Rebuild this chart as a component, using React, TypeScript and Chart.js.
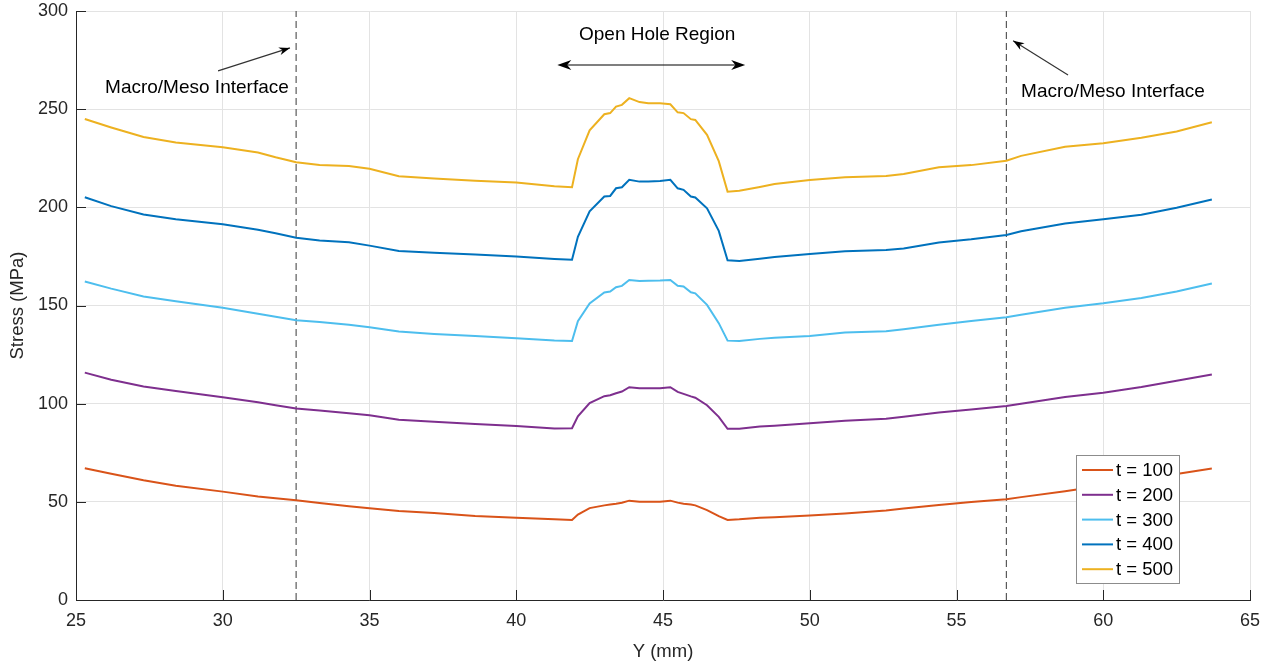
import { useEffect, useRef } from "react";
import { Chart, registerables } from "chart.js";

Chart.register(...registerables);

// ---- data ----
const yPositionMm = [
  25.3, 26.2, 27.3, 28.4, 30.0, 31.2, 31.8, 32.5, 33.3, 34.3, 35.0, 36.0, 37.2, 38.6, 40.0, 41.3,
  41.9, 42.1, 42.5, 43.0, 43.2, 43.4, 43.6, 43.85, 44.2, 44.5, 44.9, 45.25, 45.5, 45.7, 45.95, 46.1,
  46.5, 46.9, 47.2, 47.6, 48.3, 48.8, 50.0, 51.2, 52.6, 53.2, 54.4, 55.5, 56.7, 57.2, 58.7, 60.0,
  61.3, 62.5, 63.7,
];

const stressT100 = [
  67.1, 64.3, 61.0, 58.2, 55.2, 52.7, 51.8, 50.8, 49.4, 47.8, 46.7, 45.3, 44.3, 42.8, 41.9, 41.1,
  40.8, 43.5, 46.8, 48.2, 48.6, 49.0, 49.5, 50.6, 50.1, 50.1, 50.1, 50.6, 49.6, 49.0, 48.6, 48.2,
  45.8, 42.7, 40.8, 41.1, 41.9, 42.2, 43.0, 44.0, 45.6, 46.6, 48.4, 49.9, 51.3, 52.4, 55.4, 58.3,
  60.8, 64.2, 67.0,
];

const stressT200 = [
  115.8, 112.2, 108.7, 106.5, 103.3, 100.7, 99.2, 97.5, 96.5, 95.1, 94.1, 91.8, 90.8, 89.7, 88.6, 87.4,
  87.5, 93.5, 100.3, 103.8, 104.3, 105.3, 106.2, 108.4, 107.9, 107.9, 107.9, 108.4, 106.0, 105.0, 103.7, 103.0,
  99.2, 93.3, 87.2, 87.2, 88.4, 88.8, 90.0, 91.3, 92.3, 93.3, 95.5, 97.0, 98.8, 100.0, 103.4, 105.6,
  108.5, 111.7, 114.9,
];

const stressT300 = [
  162.2, 158.6, 154.6, 152.2, 148.9, 145.8, 144.3, 142.5, 141.6, 140.2, 138.9, 136.7, 135.5, 134.5, 133.3, 132.2,
  131.9, 142.0, 151.0, 156.6, 157.1, 159.3, 160.0, 163.0, 162.5, 162.6, 162.7, 163.0, 160.0, 159.7, 156.7, 156.2,
  150.3, 141.0, 132.1, 131.9, 133.0, 133.6, 134.5, 136.3, 136.9, 137.9, 140.2, 142.1, 144.0, 145.3, 148.9, 151.1,
  153.8, 157.1, 161.2,
];

const stressT400 = [
  205.1, 200.6, 196.4, 193.9, 191.4, 188.6, 186.8, 184.5, 183.1, 182.2, 180.5, 177.8, 176.9, 176.0, 174.9, 173.7,
  173.3, 185.0, 198.0, 205.5, 205.8, 209.7, 210.2, 214.0, 213.1, 213.2, 213.4, 214.0, 209.7, 208.9, 205.5, 205.0,
  199.5, 188.0, 173.0, 172.7, 173.8, 174.7, 176.2, 177.6, 178.3, 179.0, 182.1, 183.7, 185.9, 187.8, 191.8, 193.9,
  196.2, 199.8, 204.0,
];

const stressT500 = [
  245.0, 240.7, 235.8, 233.0, 230.6, 227.9, 225.5, 223.0, 221.6, 221.1, 219.6, 215.8, 214.7, 213.6, 212.6, 210.8,
  210.2, 224.5, 239.2, 247.4, 248.0, 251.3, 252.2, 255.6, 253.6, 253.0, 253.0, 252.5, 248.4, 248.0, 244.9, 244.5,
  236.9, 223.5, 208.0, 208.5, 210.4, 211.9, 213.9, 215.3, 216.0, 217.0, 220.4, 221.5, 223.7, 226.2, 230.8, 232.6,
  235.4, 238.6, 243.3,
];

const seriesLabels = ["t = 100", "t = 200", "t = 300", "t = 400", "t = 500"];
const seriesValues = [stressT100, stressT200, stressT300, stressT400, stressT500];
const seriesColors = ["#D95319", "#7E2F8E", "#4DBEEE", "#0072BD", "#EDB120"];

const interfacePositions = [32.5, 56.7];
const xMin = 25, xMax = 65, xStep = 5;
const yMin = 0, yMax = 300, yStep = 50;

// annotations (data coordinates)
const openHoleText = { text: "Open Hole Region", x: 44.8, y: 287.8 };
const openHoleArrow = { x1: 41.4, x2: 47.8, y: 272.5 };
const leftInterfaceText = { text: "Macro/Meso Interface", x: 25.99, y: 260.8 };
const leftInterfaceArrow = { x1: 29.84, y1: 269.5, x2: 32.29, y2: 281.2 };
const rightInterfaceText = { text: "Macro/Meso Interface", x: 57.2, y: 258.8 };
const rightInterfaceArrow = { x1: 58.8, y1: 267.4, x2: 56.93, y2: 284.8 };

const FONT = "'Liberation Sans', Arial, Helvetica, sans-serif";
const TEXT_COLOR = "#262626";

function arrowHead(ctx: CanvasRenderingContext2D, fx: number, fy: number, tx: number, ty: number, len = 12, half = 4.5) {
  const ang = Math.atan2(ty - fy, tx - fx);
  const cos = Math.cos(ang), sin = Math.sin(ang);
  const bx = tx - len * cos, by = ty - len * sin;
  const nx = tx - len * 0.7 * cos, ny = ty - len * 0.7 * sin;
  ctx.beginPath();
  ctx.moveTo(tx, ty);
  ctx.lineTo(bx - half * sin, by + half * cos);
  ctx.lineTo(nx, ny);
  ctx.lineTo(bx + half * sin, by - half * cos);
  ctx.closePath();
  ctx.fill();
}

const decorPlugin = {
  id: "decor",
  afterDraw(chart: any) {
    const { ctx, chartArea } = chart;
    const xs = chart.scales.x, ys = chart.scales.y;
    const { left, bottom } = chartArea;
    ctx.save();
    // inward tick marks
    ctx.strokeStyle = TEXT_COLOR;
    ctx.lineWidth = 1;
    ctx.beginPath();
    xs.ticks.forEach((t: any) => {
      const px = Math.round(xs.getPixelForValue(t.value)) + 0.5;
      ctx.moveTo(px, bottom);
      ctx.lineTo(px, bottom - 10);
    });
    ys.ticks.forEach((t: any) => {
      const py = Math.round(ys.getPixelForValue(t.value)) + 0.5;
      ctx.moveTo(left, py);
      ctx.lineTo(left + 10, py);
    });
    ctx.stroke();

    // annotations
    ctx.fillStyle = "#000";
    ctx.font = `19px ${FONT}`;
    ctx.textBaseline = "middle";
    ctx.textAlign = "center";
    ctx.fillText(openHoleText.text, xs.getPixelForValue(openHoleText.x), ys.getPixelForValue(openHoleText.y));
    ctx.textAlign = "left";
    ctx.fillText(leftInterfaceText.text, xs.getPixelForValue(leftInterfaceText.x), ys.getPixelForValue(leftInterfaceText.y));
    ctx.fillText(rightInterfaceText.text, xs.getPixelForValue(rightInterfaceText.x), ys.getPixelForValue(rightInterfaceText.y));

    ctx.strokeStyle = "#000";
    ctx.lineWidth = 1.2;
    // double arrow
    const ax1 = xs.getPixelForValue(openHoleArrow.x1), ax2 = xs.getPixelForValue(openHoleArrow.x2);
    const ay = ys.getPixelForValue(openHoleArrow.y);
    ctx.beginPath();
    ctx.moveTo(ax1 + 6, ay);
    ctx.lineTo(ax2 - 6, ay);
    ctx.stroke();
    arrowHead(ctx, ax2, ay, ax1, ay, 14, 5);
    arrowHead(ctx, ax1, ay, ax2, ay, 14, 5);

    const single = (a: any) => {
      const x1 = xs.getPixelForValue(a.x1), y1 = ys.getPixelForValue(a.y1);
      const x2 = xs.getPixelForValue(a.x2), y2 = ys.getPixelForValue(a.y2);
      ctx.strokeStyle = "#333";
      ctx.fillStyle = "#000";
      ctx.beginPath();
      ctx.moveTo(x1, y1);
      ctx.lineTo(x2, y2);
      ctx.stroke();
      arrowHead(ctx, x1, y1, x2, y2, 11, 4);
    };
    single(leftInterfaceArrow);
    single(rightInterfaceArrow);

    // legend
    const lx = 1076, ly = 455, lw = 103, lh = 128;
    ctx.fillStyle = "#fff";
    ctx.fillRect(lx, ly, lw, lh);
    ctx.strokeStyle = "#8c8c8c";
    ctx.lineWidth = 1;
    ctx.strokeRect(lx + 0.5, ly + 0.5, lw, lh);
    const rowH = 24.8;
    chart.data.datasets.forEach((ds: any, i: number) => {
      if (ds.hideInLegend) return;
      const cy = ly + 15 + i * rowH;
      ctx.strokeStyle = ds.borderColor;
      ctx.lineWidth = 2;
      ctx.beginPath();
      ctx.moveTo(lx + 6, cy);
      ctx.lineTo(lx + 37, cy);
      ctx.stroke();
      ctx.fillStyle = "#000";
      ctx.font = `18.5px ${FONT}`;
      ctx.textAlign = "left";
      ctx.textBaseline = "middle";
      ctx.fillText(ds.label, lx + 40, cy + 1);
    });
    ctx.restore();
  },
};

export default function App() {
  const ref = useRef<HTMLCanvasElement | null>(null);

  useEffect(() => {
    if (!ref.current) return;
    const lineSets: any[] = seriesLabels.map((label, i) => ({
      label,
      data: yPositionMm.map((x, j) => ({ x, y: seriesValues[i][j] })),
      borderColor: seriesColors[i],
      backgroundColor: seriesColors[i],
      borderWidth: 2,
      pointRadius: 0,
      tension: 0,
      fill: false,
    }));
    const dashSets: any[] = interfacePositions.map((p) => ({
      label: "interface",
      hideInLegend: true,
      data: [
        { x: p, y: yMin },
        { x: p, y: yMax },
      ],
      borderColor: "#5a5a5a",
      borderWidth: 1.2,
      borderDash: [7, 4],
      pointRadius: 0,
      fill: false,
    }));

    const chart = new Chart(ref.current, {
      type: "line",
      data: { datasets: [...lineSets, ...dashSets] },
      options: {
        animation: false,
        responsive: false,
        layout: { padding: { left: 0, right: 32, top: 11, bottom: 0 } },
        plugins: { legend: { display: false }, tooltip: { enabled: false } },
        scales: {
          x: {
            type: "linear",
            min: xMin,
            max: xMax,
            afterFit: (s: any) => {
              s.height = 67;
              s.paddingLeft = 0;
              s.paddingRight = 0;
            },
            ticks: {
              stepSize: xStep,
              padding: 10,
              color: TEXT_COLOR,
              font: { family: FONT, size: 18 },
              maxRotation: 0,
            },
            grid: { color: "#e3e3e3", drawTicks: false, lineWidth: 1 },
            border: { color: TEXT_COLOR, width: 1 },
            title: {
              display: true,
              text: "Y (mm)",
              color: TEXT_COLOR,
              font: { family: FONT, size: 18.5 },
              padding: { top: 0, bottom: 4 },
            },
          },
          y: {
            type: "linear",
            min: yMin,
            max: yMax,
            afterFit: (s: any) => {
              s.width = 76;
              s.paddingTop = 0;
              s.paddingBottom = 0;
            },
            ticks: {
              stepSize: yStep,
              padding: 8,
              color: TEXT_COLOR,
              font: { family: FONT, size: 18 },
            },
            grid: { color: "#e3e3e3", drawTicks: false, lineWidth: 1 },
            border: { color: TEXT_COLOR, width: 1 },
            title: {
              display: true,
              text: "Stress (MPa)",
              color: TEXT_COLOR,
              font: { family: FONT, size: 18.5 },
              padding: { top: 7, bottom: 0 },
            },
          },
        },
      },
      plugins: [decorPlugin],
    });
    return () => chart.destroy();
  }, []);

  return (
    <div style={{ position: "fixed", left: 0, top: 0, width: 1282, height: 667, background: "#fff" }}>
      <canvas ref={ref} width={1282} height={667} style={{ display: "block" }} />
    </div>
  );
}
